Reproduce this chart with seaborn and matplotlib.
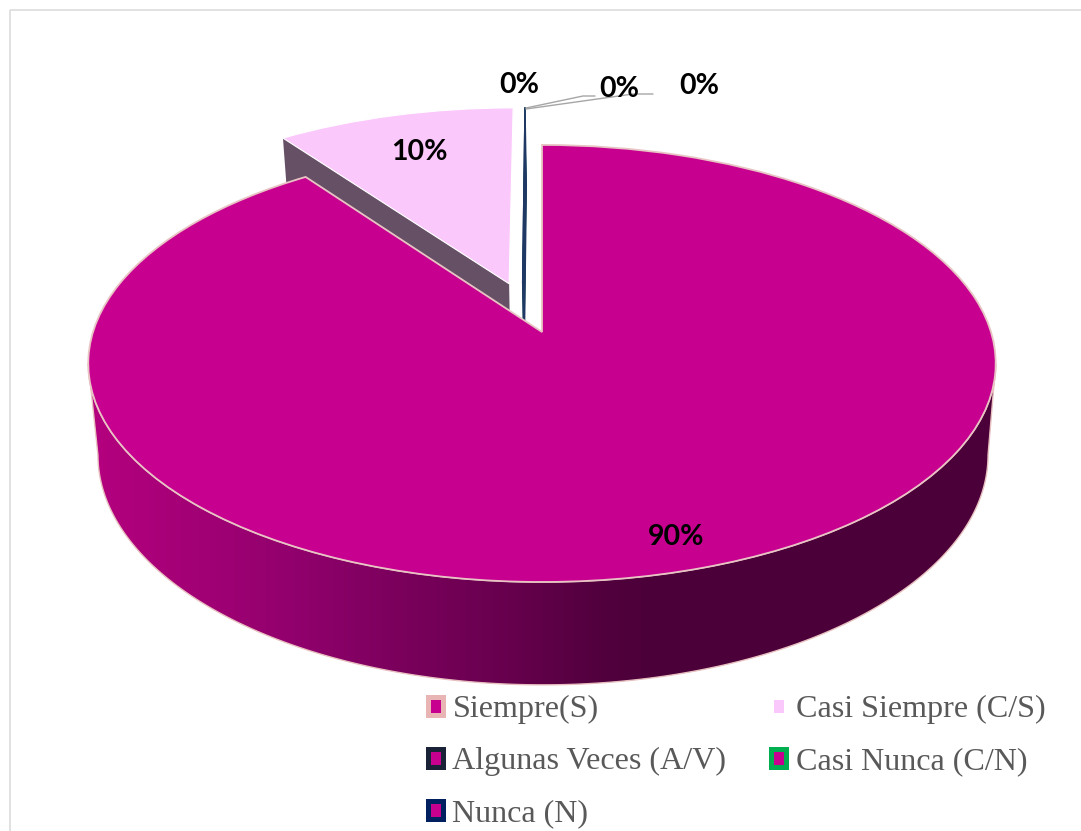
import numpy as np
import matplotlib
matplotlib.use("Agg")
import matplotlib.pyplot as plt
import seaborn as sns
from matplotlib.colors import LinearSegmentedColormap
from matplotlib.patches import Patch, Polygon, Rectangle
from matplotlib.transforms import Transform

categories = ["Siempre(S)", "Casi Siempre (C/S)", "Algunas Veces (A/V)", "Casi Nunca (C/N)", "Nunca (N)"]
values = [90, 10, 0, 0, 0]
slice_colors = ["#C80090", "#FBC8FB", "#1A2238", "#00B050", "#1F3864"]
legend_edges = ["#E8B4B4", "#FFFFFF", "#1A2238", "#00B050", "#002060"]
explode = [0, 0.245, 0.237, 0.237, 0.237]

sns.set_theme(style="white")


class Tilt(Transform):
    input_dims = output_dims = 2
    is_separable = False
    has_inverse = False

    def __init__(self, cx, cy, rx, ry, k=0.144):
        super().__init__()
        self.p = (cx, cy, rx, ry, k)

    def transform_non_affine(self, values):
        cx, cy, rx, ry, k = self.p
        v = np.asarray(values, float)
        w = 1 + k * v[:, 1]
        return np.column_stack([cx + rx * v[:, 0] / w, cy - ry * v[:, 1] / w])


top = Tilt(542, 332, 449, 214)
bottom = Tilt(543, 422, 440.4, 225)

fig = plt.figure(figsize=(10.81, 8.31), dpi=100, facecolor="white")
ax = fig.add_axes([0, 0, 1, 1])
wedges, _ = ax.pie(values, colors=slice_colors, startangle=90, counterclock=False,
                   explode=explode, wedgeprops={"transform": top + ax.transData})
ax.set_aspect("auto")
ax.set_xlim(0, 1081)
ax.set_ylim(831, 0)
ax.axis("off")


def rim(wedge, a0, a1, n=400):
    t = np.radians(np.linspace(a0, a1, n))
    c = wedge.center
    return np.column_stack([c[0] + wedge.r * np.cos(t), c[1] + wedge.r * np.sin(t)])


def cut_wall(wedge, angle):
    c = np.array([wedge.center])
    tip = rim(wedge, angle, angle, 1)
    return np.vstack([top.transform(tip), top.transform(c), bottom.transform(c), bottom.transform(tip)])


# frame of the chart area (its right and bottom sides lie outside the picture)
ax.add_patch(Rectangle((10, 10), 1200, 1000, fill=False, ec="#D9D9D9", lw=1.1, zorder=0))

# main slice: curved outer wall with its gradient
main, small = wedges[0], wedges[1]
arc = rim(main, 188.3 - 360, 351.7 - 360)
up_xy, lo_xy = top.transform(arc), bottom.transform(arc)
wall_shape = np.vstack([up_xy, lo_xy[::-1]])
wall_cmap = LinearSegmentedColormap.from_list("wall", [
    (0.00, "#B5007F"), (0.233, "#90006C"), (0.343, "#7A005C"), (0.453, "#69004F"),
    (0.563, "#52003E"), (0.618, "#4C0039"), (1.00, "#4C003A")])
img = ax.imshow(np.linspace(0, 1, 512)[None, :], cmap=wall_cmap, aspect="auto",
                extent=(89, 996, 690, 340), zorder=2)
ax.set_xlim(0, 1081)
ax.set_ylim(831, 0)
img.set_clip_path(Polygon(wall_shape, transform=ax.transData))
ax.add_patch(Polygon(wall_shape, fill=False, ec="#E8C0C0", lw=1.0, zorder=2.1))

# exploded slice: the cut wall seen beneath the slice
ax.add_patch(Polygon(cut_wall(small, small.theta2), fc="#665066", ec="none", zorder=1))

small.set(zorder=1.5, edgecolor="#FFFFFF", linewidth=0.8)
main.set(zorder=3, edgecolor="#E8C4C4", linewidth=1.3)

# empty slices: only an edge and its wall remain, the last one on top
for i, (w, col) in enumerate(zip(wedges[2:], slice_colors[2:])):
    w.set_center((-0.0446, w.center[1]))
    lw = 1.0 if i == 2 else 0.3
    w.set(zorder=1.6 + i * 0.01, edgecolor=col, linewidth=lw)
    ax.add_patch(Polygon(cut_wall(w, w.theta1), fc=col, ec=col, lw=lw, zorder=1.6 + i * 0.01))

# leader lines
leaders = [[(526, 108), (583, 96), (595, 96)], [(526, 109), (633, 94), (653, 94)]]
for pts in leaders:
    p = np.array(pts)
    ax.plot(p[:, 0], p[:, 1], color="#A6A6A6", lw=1.0, zorder=1.7)

# data labels
label_pos = [(676, 537), (419, 152), (519, 85), (619, 89), (699, 86)]
for v, (x, y) in zip(values, label_pos):
    ax.text(x, y, f"{v}%", family="Lato", weight="bold", fontsize=20.5, color="black",
            ha="center", va="center", zorder=5)

# legend, filled column by column
order = [0, 2, 4, 1, 3]
handles = [Patch(facecolor="#C80090" if i != 1 else slice_colors[1], edgecolor=legend_edges[i],
                 linewidth=3.6) for i in order]
ax.legend(handles, [categories[i] for i in order], ncol=2, loc="upper left",
          bbox_to_anchor=(428, 695), bbox_transform=ax.transData, frameon=False,
          borderpad=0, borderaxespad=0, handlelength=0.47, handleheight=0.47,
          handletextpad=0.29, columnspacing=1.4, labelspacing=0.72, labelcolor="#595959",
          prop={"family": "Liberation Serif", "size": 23.1})

fig.savefig("out.png", dpi=100)
